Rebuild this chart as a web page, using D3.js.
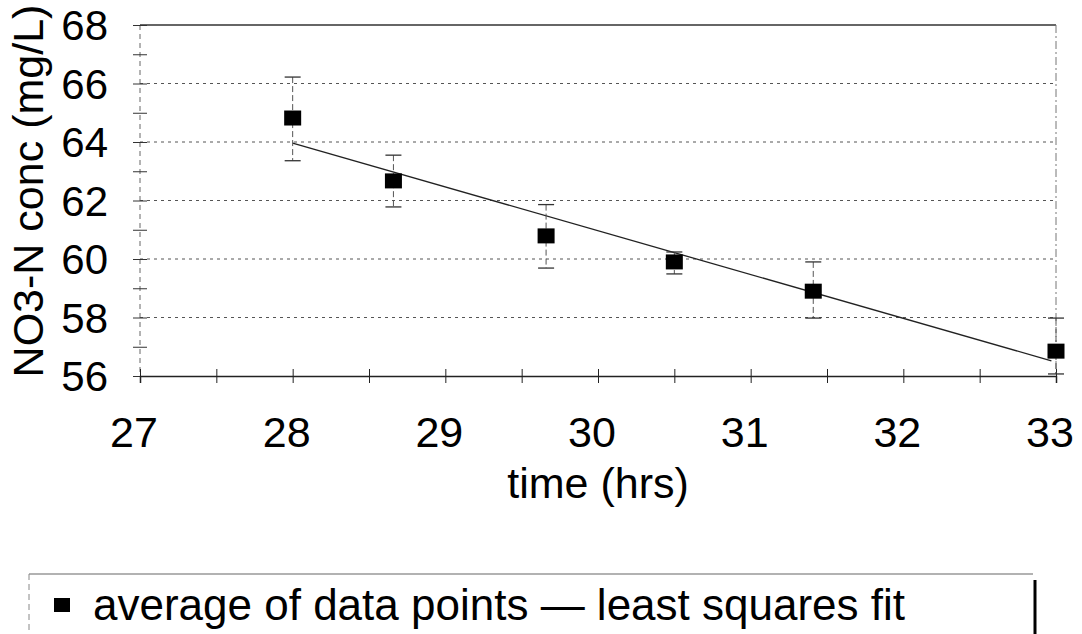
<!DOCTYPE html>
<html lang="en">
<head>
<meta charset="utf-8">
<title>NO3-N conc vs time</title>
<script src="https://cdnjs.cloudflare.com/ajax/libs/d3/7.8.5/d3.min.js"></script>
<style>
  body { margin: 0; background: #fff; }
  svg text { font-family: Arial, "Liberation Sans", sans-serif; fill: #000; }
</style>
</head>
<body>
<svg width="1082" height="634"></svg>
<script>
// averages with error bars
var times = [28.0, 28.66, 29.66, 30.5, 31.41, 33.0];
var conc = [64.82, 62.67, 60.79, 59.9, 58.9, 56.85];
var errHigh = [66.22, 63.55, 61.86, 60.24, 59.9, 57.98];
var errLow = [63.36, 61.78, 59.69, 59.49, 57.98, 56.07];

// least squares fit line end points
var fitTime = [28.0, 32.97];
var fitConc = [63.96, 56.52];

var xTicks = [27, 28, 29, 30, 31, 32, 33];
var yTicks = [56, 58, 60, 62, 64, 66, 68];
var gridVals = [58, 60, 62, 64, 66];

var svg = d3.select("svg");

var x = d3.scaleLinear().domain([27, 33]).range([140, 1056]);
var y = d3.scaleLinear().domain([56, 68]).range([376, 25]);

// grid lines
svg.selectAll(".grid")
    .data(gridVals)
    .enter().append("line")
    .attr("x1", x(27)).attr("x2", x(33))
    .attr("y1", function(d) { return y(d); })
    .attr("y2", function(d) { return y(d); })
    .attr("stroke", "#555")
    .attr("stroke-width", 1)
    .attr("stroke-dasharray", "3,4");

// frame: top solid, right dash-dot
svg.append("line")
    .attr("x1", x(27)).attr("x2", x(33))
    .attr("y1", y(68)).attr("y2", y(68))
    .attr("stroke", "#333").attr("stroke-width", 1.5);
svg.append("line")
    .attr("x1", x(33)).attr("x2", x(33))
    .attr("y1", y(68)).attr("y2", y(56))
    .attr("stroke", "#777").attr("stroke-width", 1)
    .attr("stroke-dasharray", "8,3,2,3");

// left axis (dashed) with ticks each unit
svg.append("line")
    .attr("x1", x(27)).attr("x2", x(27))
    .attr("y1", y(68)).attr("y2", y(56))
    .attr("stroke", "#666").attr("stroke-width", 1)
    .attr("stroke-dasharray", "5,4");
svg.append("g")
    .attr("transform", "translate(" + x(27) + ",0)")
    .call(d3.axisLeft(y).tickValues(d3.range(56, 69, 1)).tickSize(-7).tickFormat(""))
    .call(function(g) { g.select(".domain").remove(); })
    .selectAll(".tick line")
    .attr("x1", -7)
    .attr("stroke", "#333");

svg.selectAll(".ylab")
    .data(yTicks)
    .enter().append("text")
    .attr("x", 108)
    .attr("y", function(d) { return y(d) + 15; })
    .attr("text-anchor", "end")
    .style("font-size", "42px")
    .text(function(d) { return d; });

// bottom axis with ticks every half hour
svg.append("g")
    .attr("transform", "translate(0," + y(56) + ")")
    .call(d3.axisBottom(x).tickValues(d3.range(27, 33.01, 0.5)).tickSize(7).tickFormat(""))
    .call(function(g) {
        g.select(".domain").attr("stroke", "#222").attr("stroke-width", 1.5);
        g.selectAll(".tick line").attr("y1", -7).attr("stroke", "#222");
    });

svg.selectAll(".xlab")
    .data(xTicks)
    .enter().append("text")
    .attr("x", function(d) { return x(d) - 6; })
    .attr("y", 447)
    .attr("text-anchor", "middle")
    .style("font-size", "43px")
    .text(function(d) { return d; });

svg.append("text")
    .attr("x", 598)
    .attr("y", 498)
    .attr("text-anchor", "middle")
    .style("font-size", "43px")
    .text("time (hrs)");

svg.append("text")
    .attr("transform", "translate(43,191) rotate(-90)")
    .attr("text-anchor", "middle")
    .style("font-size", "43px")
    .text("NO3-N conc (mg/L)");

// fit line
var fit = fitTime.map(function(t, i) { return [t, fitConc[i]]; });
svg.append("path")
    .datum(fit)
    .attr("fill", "none")
    .attr("stroke", "#222")
    .attr("stroke-width", 1.3)
    .attr("d", d3.line().x(function(d) { return x(d[0]); }).y(function(d) { return y(d[1]); }));

// error bars
var pts = times.map(function(t, i) {
    return { t: t, c: conc[i], hi: errHigh[i], lo: errLow[i] };
});
var eb = svg.selectAll(".err").data(pts).enter().append("g");
eb.append("line")
    .attr("x1", function(d) { return x(d.t); })
    .attr("x2", function(d) { return x(d.t); })
    .attr("y1", function(d) { return y(d.hi); })
    .attr("y2", function(d) { return y(d.lo); })
    .attr("stroke", "#555").attr("stroke-width", 1)
    .attr("stroke-dasharray", "6,3");
eb.append("line")
    .attr("x1", function(d) { return x(d.t) - 8; })
    .attr("x2", function(d) { return x(d.t) + 8; })
    .attr("y1", function(d) { return y(d.hi); })
    .attr("y2", function(d) { return y(d.hi); })
    .attr("stroke", "#333").attr("stroke-width", 1.3);
eb.append("line")
    .attr("x1", function(d) { return x(d.t) - 8; })
    .attr("x2", function(d) { return x(d.t) + 8; })
    .attr("y1", function(d) { return y(d.lo); })
    .attr("y2", function(d) { return y(d.lo); })
    .attr("stroke", "#333").attr("stroke-width", 1.3);

// markers
svg.selectAll(".pt")
    .data(pts)
    .enter().append("rect")
    .attr("x", function(d) { return x(d.t) - 8.5; })
    .attr("y", function(d) { return y(d.c) - 7.5; })
    .attr("width", 17)
    .attr("height", 15)
    .attr("fill", "#000");

// legend box
var leg = svg.append("g");
leg.append("line")
    .attr("x1", 29).attr("x2", 1033).attr("y1", 574).attr("y2", 574)
    .attr("stroke", "#666").attr("stroke-width", 1.2);
leg.append("line")
    .attr("x1", 29).attr("x2", 29).attr("y1", 574).attr("y2", 634)
    .attr("stroke", "#888").attr("stroke-width", 1)
    .attr("stroke-dasharray", "6,4");
leg.append("line")
    .attr("x1", 1035).attr("x2", 1035).attr("y1", 580).attr("y2", 634)
    .attr("stroke", "#000").attr("stroke-width", 3);
leg.append("rect")
    .attr("x", 54).attr("y", 598).attr("width", 16).attr("height", 14)
    .attr("fill", "#000");
leg.append("text")
    .attr("x", 93).attr("y", 620)
    .style("font-size", "44px")
    .text("average of data points \u2014 least squares fit");
</script>
</body>
</html>
